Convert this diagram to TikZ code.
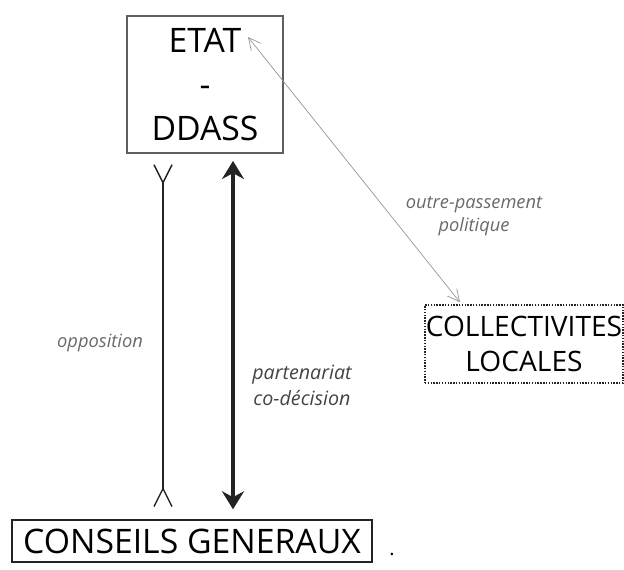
\documentclass[tikz,border=0pt]{standalone}
\usepackage{fontspec}
\setmainfont{Open Sans}
\usepackage{tikz}
\usetikzlibrary{positioning,arrows.meta,calc}
\definecolor{cline}{RGB}{35,35,35}
\definecolor{cframe}{RGB}{95,95,95}
\definecolor{cgray}{RGB}{105,105,105}
\definecolor{clight}{RGB}{150,150,150}

\begin{document}
\begin{tikzpicture}[
  box/.style={draw=cline, line width=1pt, align=center, inner sep=0pt,
              font=\fontsize{24}{31}\selectfont},
  sig/.style={font=\itshape\fontsize{13}{16.4}\selectfont, text=cgray, align=center},
  opp/.style={{Straight Barb[reversed,length=0.45cm,width=0.45cm]}-{Straight Barb[reversed,length=0.45cm,width=0.45cm]},
              line width=1pt, draw=cline},
  edge/.style={{Stealth[length=0.45cm,width=0.55cm]}-{Stealth[length=0.45cm,width=0.55cm]},
               line width=2.2pt, draw=cline},
  link/.style={{Straight Barb[length=0.3cm,width=0.3cm]}-{Straight Barb[length=0.3cm,width=0.3cm]},
               line width=0.5pt, draw=clight}]
\useasboundingbox (0,0) rectangle (15.6,-14.225);
\node[box, draw=cframe, line width=1.4pt, minimum width=3.9cm, minimum height=3.425cm] (etat) at (5.125,-2.1125) {ETAT\\-\\DDASS};
\node[box, minimum width=9cm, minimum height=1.05cm] (cg) at (4.8,-13.525) {CONSEILS GENERAUX};
\node[box, densely dotted, font=\fontsize{20}{25}\selectfont, minimum width=4.95cm, minimum height=1.95cm] (cl) at (13.1,-8.6) {COLLECTIVITES\\LOCALES};
\node[font=\fontsize{14}{14}\selectfont] (dot) at (9.8,-13.85) {.};
% vertical links
\coordinate (oppx) at (4.075,0);
\coordinate (partx) at (5.825,0);
\draw[opp, shorten <=0.25cm, shorten >=0.3cm] (etat.south -| oppx) -- (cg.north -| oppx);
\draw[edge, shorten <=0.175cm, shorten >=0.25cm] (etat.south -| partx) -- (cg.north -| partx);
\draw[link] ($(etat.north east)+(-0.9,-0.55)$) -- ($(cl.north)+(-1.6,0.05)$);
% labels
\node[sig] (outre) at (11.85,-5.4) {outre-passement\\politique};
\node[sig] (oppo) at (2.5,-8.575) {opposition};
\node[sig, text=cline!85, font=\itshape\fontsize{14}{18.5}\selectfont] (part) at (7.55,-9.625) {partenariat\\co-décision};
\end{tikzpicture}
\end{document}
